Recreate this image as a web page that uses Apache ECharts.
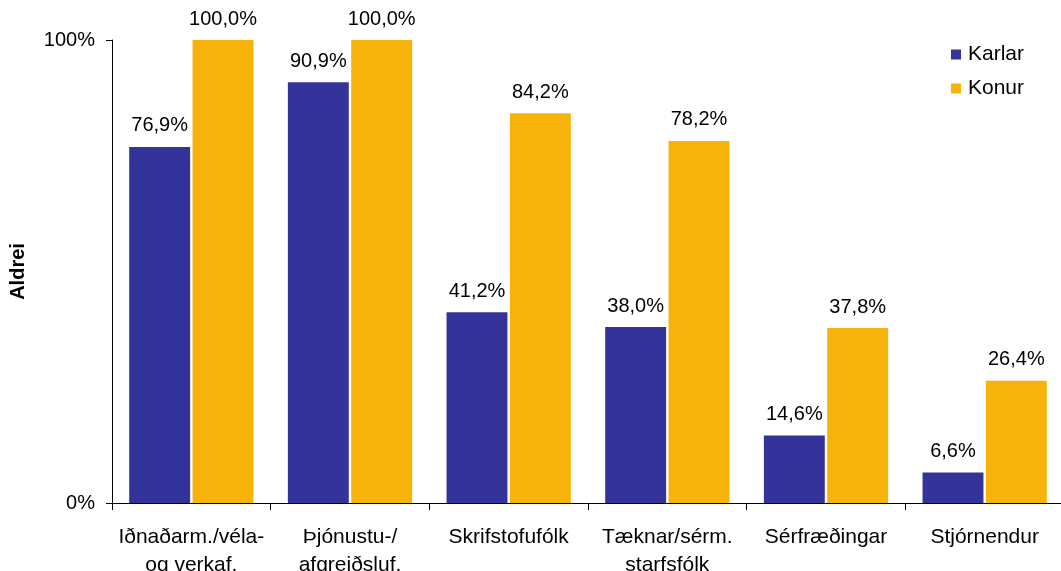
<!DOCTYPE html>
<html>
<head>
<meta charset="utf-8">
<script src="https://cdn.jsdelivr.net/npm/echarts@6/dist/echarts.min.js"></script>
<style>
  html, body { margin: 0; padding: 0; background: #fff; }
  #chart { width: 1061px; height: 571px; }
</style>
</head>
<body>
<div id="chart"></div>
<script>
// flokkar og gildi lesin af myndinni
const categories = [
  "Iðnaðarm./véla-\nog verkaf.",
  "Þjónustu-/\nafgreiðsluf.",
  "Skrifstofufólk",
  "Tæknar/sérm.\nstarfsfólk",
  "Sérfræðingar",
  "Stjórnendur"
];
const karlar = [76.9, 90.9, 41.2, 38.0, 14.6, 6.6];
const konur = [100.0, 100.0, 84.2, 78.2, 37.8, 26.4];
const yTicks = [0, 100];

const font = "Liberation Sans, Arial, sans-serif";

let myChart = echarts.init(document.getElementById("chart"));

const labelOpt = {
  show: true,
  position: "top",
  distance: 11,
  color: "#000",
  fontSize: 20,
  fontFamily: font,
  formatter: p => p.value.toFixed(1).replace(".", ",") + "%"
};

myChart.setOption({
  animation: false,
  textStyle: { fontFamily: font },
  legend: {
    orient: "vertical",
    left: 951,
    top: 44,
    padding: 0,
    itemWidth: 10,
    itemHeight: 10,
    itemGap: 13,
    icon: "rect",
    textStyle: { fontSize: 21, color: "#000", fontFamily: font, padding: [0, 0, 0, 2] },
    data: ["Karlar", "Konur"]
  },
  grid: {
    left: 112,
    right: -3,
    top: 40,
    bottom: 68,
    containLabel: false,
    outerBoundsMode: "none"
  },
  xAxis: {
    type: "category",
    data: categories,
    axisLine: { lineStyle: { color: "#000", width: 1 } },
    axisTick: { show: true, length: 7, lineStyle: { color: "#000" } },
    axisLabel: {
      color: "#000",
      fontSize: 21,
      fontFamily: font,
      lineHeight: 28,
      margin: 20,
      interval: 0
    }
  },
  yAxis: {
    type: "value",
    min: 0,
    max: 100,
    interval: 100,
    name: "Aldrei",
    nameLocation: "middle",
    nameRotate: 90,
    nameGap: 84,
    nameTextStyle: { fontSize: 20, fontWeight: "bold", color: "#000", fontFamily: font },
    splitLine: { show: false },
    axisLine: { show: true, lineStyle: { color: "#000", width: 1 } },
    axisTick: { show: true, length: 6, lineStyle: { color: "#000" } },
    axisLabel: {
      color: "#000",
      fontSize: 20,
      fontFamily: font,
      margin: 17,
      formatter: v => (yTicks.includes(v) ? v + "%" : "")
    }
  },
  series: [
    {
      name: "Karlar",
      type: "bar",
      data: karlar,
      barWidth: "38.4%",
      barGap: "4%",
      itemStyle: { color: "#333399" },
      label: labelOpt
    },
    {
      name: "Konur",
      type: "bar",
      data: konur,
      barWidth: "38.4%",
      itemStyle: { color: "#F7B30B" },
      label: labelOpt
    }
  ]
});
</script>
</body>
</html>
